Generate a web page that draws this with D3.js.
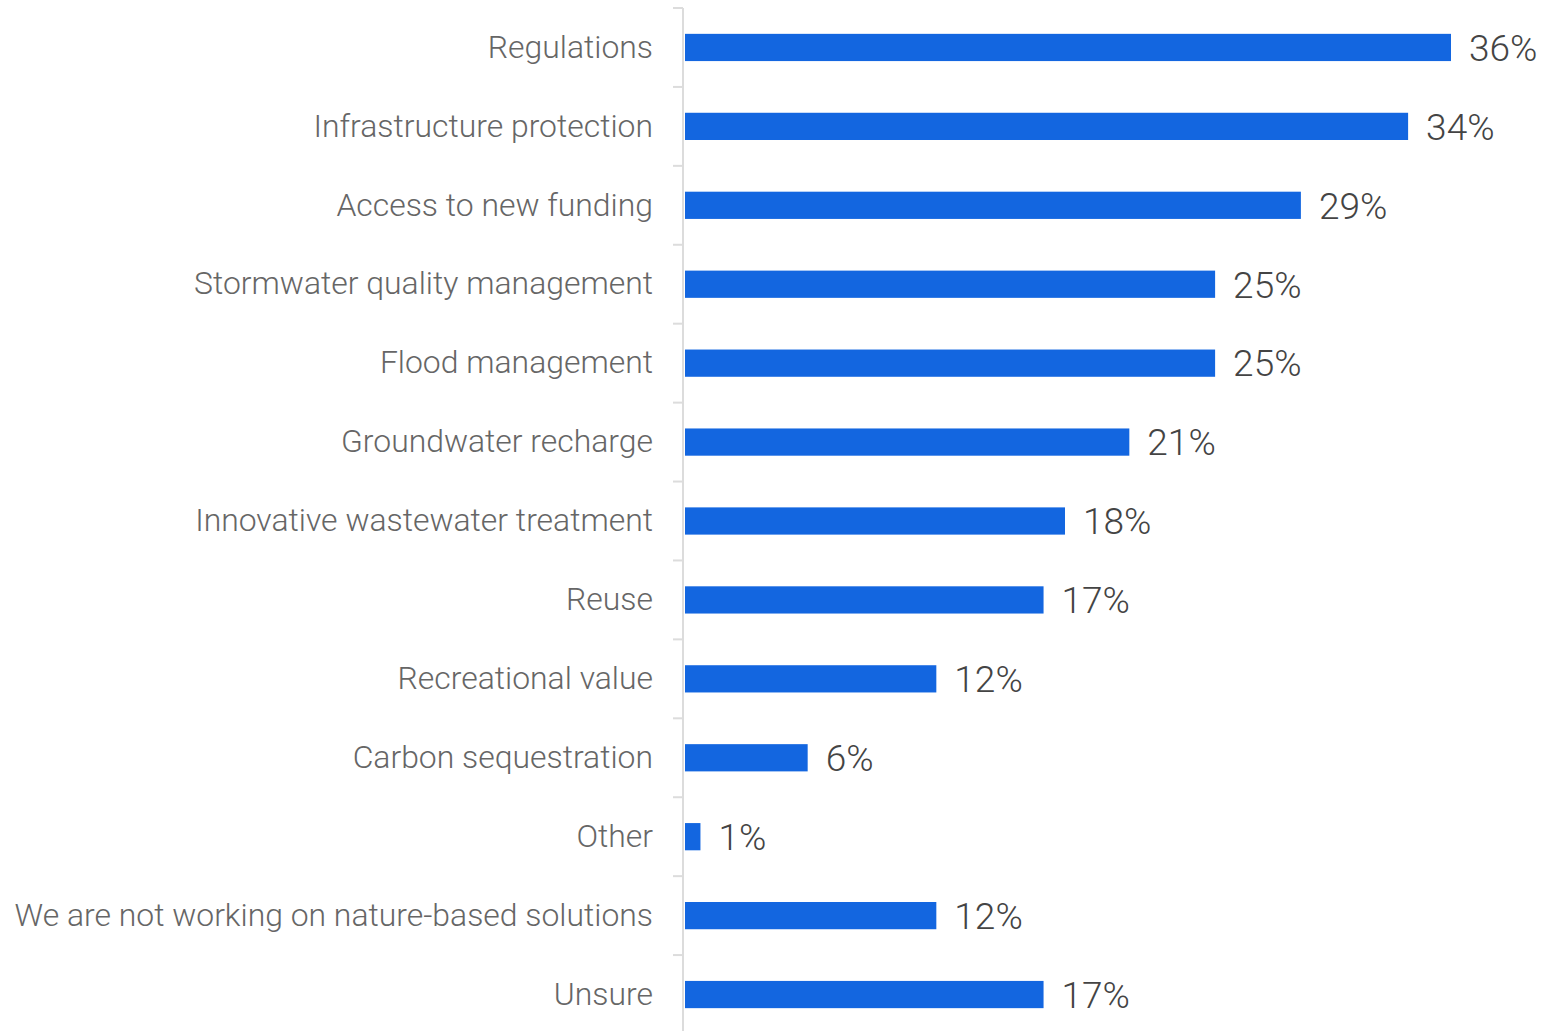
<!DOCTYPE html>
<html>
<head>
<meta charset="utf-8">
<script src="https://cdn.jsdelivr.net/npm/d3@7"></script>
<style>
  html, body { margin: 0; padding: 0; background: #fff; }
  svg { display: block; }
</style>
</head>
<body>
<svg id="chart" width="1544" height="1031"></svg>
<script>
const categories = [
  "Regulations",
  "Infrastructure protection",
  "Access to new funding",
  "Stormwater quality management",
  "Flood management",
  "Groundwater recharge",
  "Innovative wastewater treatment",
  "Reuse",
  "Recreational value",
  "Carbon sequestration",
  "Other",
  "We are not working on nature-based solutions",
  "Unsure"
];
const values = [36, 34, 29, 25, 25, 21, 18, 17, 12, 6, 1, 12, 17];
const valueLabels = ["36%", "34%", "29%", "25%", "25%", "21%", "18%", "17%", "12%", "6%", "1%", "12%", "17%"];

const data = categories.map((c, i) => ({ cat: c, val: values[i], label: valueLabels[i] }));

const svg = d3.select("#chart");
const axisX = 683;
const barStart = 685;
const x = d3.scaleLinear().domain([0, 36]).range([679, 1451]);
const y = d3.scaleBand().domain(categories).range([8, 1034]).paddingInner(0.655).paddingOuter(0.3275);

// bars
svg.append("g").selectAll("rect")
  .data(data).join("rect")
  .attr("x", barStart)
  .attr("y", d => y(d.cat))
  .attr("width", d => Math.max(0, x(d.val) - barStart))
  .attr("height", y.bandwidth())
  .attr("fill", "#1366e0");

// y axis
const yAxis = d3.axisLeft(y).tickSize(0).tickPadding(30);
const gy = svg.append("g").attr("transform", `translate(${axisX},0)`).call(yAxis);
gy.select(".domain").remove();
gy.selectAll("text")
  .attr("font-family", "Roboto, sans-serif")
  .attr("font-weight", 300)
  .attr("font-size", 31.9)
  .attr("fill", "#666");

// axis line and band-boundary ticks
const step = y.step();
const bounds = d3.range(categories.length + 1).map(i => 8 + i * step);
svg.append("line")
  .attr("x1", axisX).attr("x2", axisX)
  .attr("y1", 8).attr("y2", 1031)
  .attr("stroke", "#dcdcdc").attr("stroke-width", 2);
svg.append("g").selectAll("line")
  .data(bounds).join("line")
  .attr("x1", axisX - 10).attr("x2", axisX)
  .attr("y1", d => d).attr("y2", d => d)
  .attr("stroke", "#dcdcdc").attr("stroke-width", 2);

// value labels
svg.append("g").selectAll("text")
  .data(data).join("text")
  .attr("x", d => x(d.val) + 18)
  .attr("y", d => y(d.cat) + y.bandwidth() / 2)
  .attr("dy", "0.36em")
  .attr("font-family", "Roboto, sans-serif")
  .attr("font-weight", 300)
  .attr("font-size", 37)
  .attr("fill", "#444")
  .text(d => d.label);
</script>
</body>
</html>
